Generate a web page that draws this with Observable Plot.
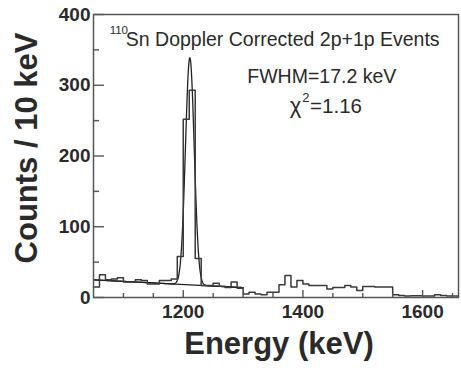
<!DOCTYPE html>
<html>
<head>
<meta charset="utf-8">
<script src="https://cdn.jsdelivr.net/npm/d3@7"></script>
<script src="https://cdn.jsdelivr.net/npm/@observablehq/plot@0.6"></script>
<style>
  body { margin: 0; background: #fff; }
  #chart svg { display: block; }
</style>
</head>
<body>
<div id="chart"></div>
<script>
// 110Sn gamma spectrum, 10 keV bins starting at 1050 keV
const binStart = 1050;
const binWidth = 10;
const counts = [
  15, 32, 25, 26, 28, 22, 22, 25, 24, 19,
  19, 24, 24, 26, 58, 252, 293, 55, 17, 17,
  20, 16, 14, 22, 13, 5, 7.5, 5, 4, 7.5,
  7.5, 18, 31, 15, 24, 19, 17, 17, 17, 12,
  14, 14, 17, 15, 10, 15.5, 15.5, 15, 15, 15,
  4, 3, 2, 2.5, 2.5, 2, 2, 4, 3, 2, 2
];

// Gaussian + linear background fit to the photopeak
const fitCentroid = 1211;
const fitFwhm = 17.2;
const fitAmplitude = 321;
const fitBgIntercept = 25;     // background at fitRange[0]
const fitBgSlope = -0.044;     // counts per keV
const fitRange = [1050, 1300];
const chiSquare = 1.16;

const xDomain = [1050, 1660];
const yDomain = [0, 400];
const xTicksMajor = [1200, 1400, 1600];
const xTicksMinor = [1100, 1150, 1250, 1300, 1350, 1450, 1500, 1550, 1650];
const yTicksMajor = [0, 100, 200, 300, 400];
const yTicksMinor = [50, 150, 250, 350];

const hist = counts.map((c, i) => ({e: binStart + i * binWidth, c}));
hist.push({e: binStart + counts.length * binWidth, c: counts[counts.length - 1]});

const sigma = fitFwhm / (2 * Math.sqrt(2 * Math.log(2)));
const background = e => fitBgIntercept + fitBgSlope * (e - fitRange[0]);
const fitModel = e => background(e) + fitAmplitude * Math.exp(-((e - fitCentroid) ** 2) / (2 * sigma * sigma));
const fitSamples = d3.range(fitRange[0], fitRange[1] + 0.25, 0.5);
const fitCurve = fitSamples.map(e => ({e, c: fitModel(e)}));
const bgLine = fitRange.map(e => ({e, c: background(e)}));

const font = "'Liberation Sans', Arial, Helvetica, sans-serif";
const ink = "#2a2a2a";
const axisInk = "#555";

const chart = Plot.plot({
  width: 461,
  height: 368,
  marginLeft: 93,
  marginRight: 3,
  marginTop: 14,
  marginBottom: 71,
  style: {fontFamily: font, color: ink, background: "#fff"},
  x: {domain: xDomain},
  y: {domain: yDomain},
  marks: [
    Plot.line(bgLine, {x: "e", y: "c", stroke: "#222", strokeWidth: 1.2}),
    Plot.line(fitCurve, {x: "e", y: "c", stroke: "#222", strokeWidth: 1.3}),
    Plot.line(hist, {x: "e", y: "c", curve: "step-after", stroke: "#3a3a3a", strokeWidth: 1.5}),
    // inward-pointing ticks
    Plot.axisX({anchor: "top", frameAnchor: "bottom", ticks: xTicksMajor, tickSize: 8, tickFormat: () => "", label: null, stroke: axisInk, strokeWidth: 1.4}),
    Plot.axisX({anchor: "top", frameAnchor: "bottom", ticks: xTicksMinor, tickSize: 5, tickFormat: () => "", label: null, stroke: axisInk, strokeWidth: 1.4}),
    Plot.axisY({anchor: "right", frameAnchor: "left", ticks: yTicksMajor, tickSize: 10, tickFormat: () => "", label: null, stroke: axisInk, strokeWidth: 1.4}),
    Plot.axisY({anchor: "right", frameAnchor: "left", ticks: yTicksMinor, tickSize: 5, tickFormat: () => "", label: null, stroke: axisInk, strokeWidth: 1.4}),
    // tick labels
    Plot.axisX({anchor: "bottom", ticks: xTicksMajor, tickSize: 0, tickPadding: 7, tickFormat: d => String(d), label: null, fontSize: 19, fontWeight: "bold", fill: ink}),
    Plot.axisY({anchor: "left", ticks: yTicksMajor, tickSize: 0, tickPadding: 3, tickFormat: d => String(d), label: null, fontSize: 19, fontWeight: "bold", fill: ink}),
    Plot.frame({stroke: axisInk, strokeWidth: 1.5}),
    // axis titles
    Plot.text(["Energy (keV)"], {frameAnchor: "bottom", dx: 3, dy: 47, textAnchor: "middle", lineAnchor: "middle", fontSize: 31, fontWeight: "bold", fill: ink}),
    Plot.text(["Counts / 10 keV"], {frameAnchor: "left", dx: -66, dy: -8, rotate: -90, textAnchor: "middle", lineAnchor: "middle", fontSize: 31, fontWeight: "bold", fill: ink}),
    // annotations
    Plot.text(["110"], {x: 1077, y: 372, textAnchor: "start", lineAnchor: "bottom", fontSize: 11.5, fill: ink}),
    Plot.text(["Sn Doppler Corrected 2p+1p Events"], {x: 1104, y: 356, textAnchor: "start", lineAnchor: "bottom", fontSize: 19.5, fill: ink}),
    Plot.text([`FWHM=${fitFwhm} keV`], {x: 1307, y: 303, textAnchor: "start", lineAnchor: "bottom", fontSize: 19.5, fill: ink}),
    Plot.text(["χ"], {x: 1378, y: 261, textAnchor: "start", lineAnchor: "bottom", fontSize: 22, fill: ink}),
    Plot.text(["2"], {x: 1399, y: 276, textAnchor: "start", lineAnchor: "bottom", fontSize: 13, fill: ink}),
    Plot.text([`=${chiSquare.toFixed(2)}`], {x: 1412, y: 261, textAnchor: "start", lineAnchor: "bottom", fontSize: 20.5, fill: ink})
  ]
});

document.getElementById("chart").appendChild(chart);
</script>
</body>
</html>
